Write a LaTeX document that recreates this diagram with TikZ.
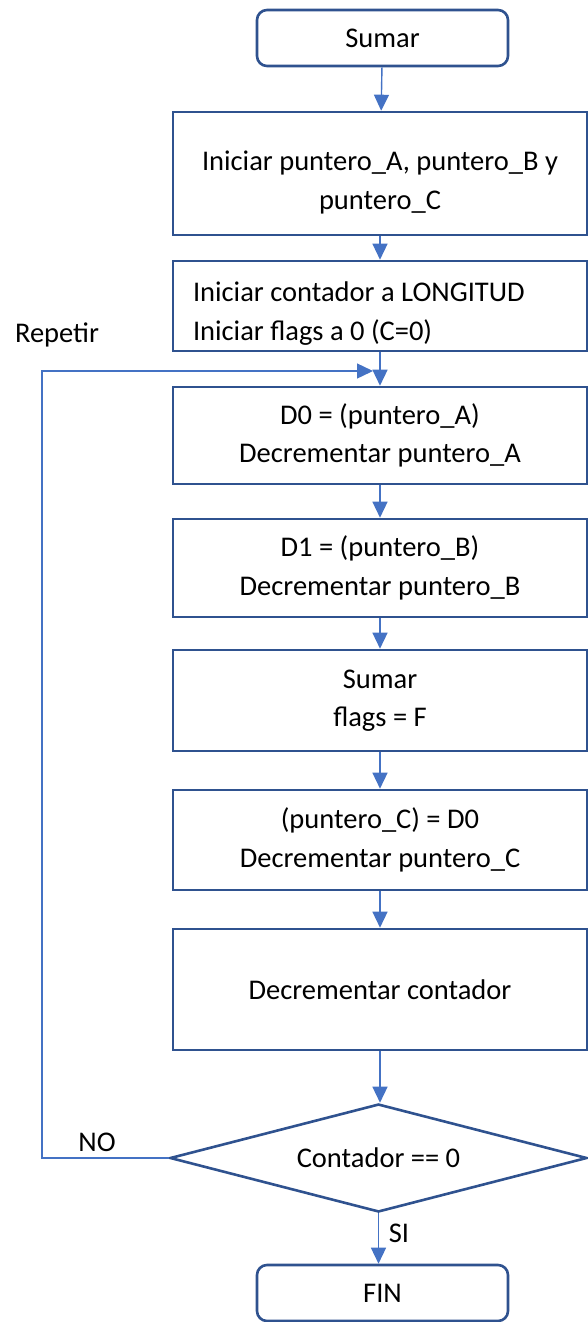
\documentclass[tikz,border=0pt]{standalone}
\usepackage{fontspec}
\setmainfont{Carlito}
\usetikzlibrary{arrows.meta,positioning,shapes.geometric}

\definecolor{boxblue}{HTML}{2F528F}
\definecolor{lineblue}{HTML}{4472C4}

\tikzset{
  stepbox/.style={draw=boxblue, line width=2.6pt, fill=white, minimum width=414pt, font=\fontsize{28.5}{38.5}\selectfont},
  twoline/.style={stepbox, align=center},
  endbox/.style={stepbox, rounded corners=10pt, minimum width=251pt, minimum height=56pt},
  conn/.style={draw=lineblue, line width=1.4pt},
  lbl/.style={font=\fontsize{28.5}{34}\selectfont}
}

\begin{document}
\begin{tikzpicture}[x=1pt,y=-1pt,>={Triangle[length=16pt,width=15pt]}]
\useasboundingbox (0,0) rectangle (587,1322);

% terminals
\node[endbox] (start) at (382.5,38) {Sumar};
\node[endbox] (fin) at (382.5,1293) {FIN};

% process steps
\node[stepbox, minimum height=123pt] (ptrs) at (380,173.5) {\raisebox{-15pt}[0pt][0pt]{\parbox{400pt}{\centering Iniciar puntero\_A, puntero\_B y\\puntero\_C}}};
\node[stepbox, minimum height=90pt] (init) at (380,306) {\raisebox{-14pt}[0pt][0pt]{\parbox{374pt}{\raggedright Iniciar contador a LONGITUD\\Iniciar flags a 0 (C=0)}}};
\node[twoline, minimum height=97pt] (rda) at (380,435.5) {D0 = (puntero\_A)\\Decrementar puntero\_A};
\node[twoline, minimum height=98pt] (rdb) at (380,568) {D1 = (puntero\_B)\\Decrementar puntero\_B};
\node[twoline, minimum height=101pt] (add) at (380,700.5) {Sumar\\flags = F};
\node[twoline, minimum height=100pt] (wrc) at (380,840) {(puntero\_C) = D0\\Decrementar puntero\_C};
\node[stepbox, minimum height=121pt] (cnt) at (380,989.5) {Decrementar contador};

% decision
\node[draw=boxblue, line width=2.6pt, shape=diamond, aspect=3.86, minimum width=417pt, minimum height=108pt, inner sep=0pt, font=\fontsize{28.5}{34}\selectfont] (dec) at (378.5,1158) {Contador == 0};

% labels
\node[lbl] (rep) at (57,335) {Repetir};
\node[lbl] (no) at (97,1142) {NO};
\node[lbl] (si) at (399,1233) {SI};

% connectors
\coordinate (join) at (380,371);
\coordinate (back) at (42,371);
\draw[conn,->] (start) -- (ptrs);
\draw[conn,->] (ptrs) -- (init);
\draw[conn,->] (init) -- (rda);
\draw[conn,->] (rda) -- (rdb);
\draw[conn,->] (rdb) -- (add);
\draw[conn,->] (add) -- (wrc);
\draw[conn,->] (wrc) -- (cnt);
\draw[conn,->] (cnt.south) -- (cnt.south |- dec.north);
\draw[conn,->] (dec.south) -- (dec.south |- fin.north);
\draw[conn,->] (dec.west) -| (back) -- ([xshift=-7pt]join);

\end{tikzpicture}
\end{document}
